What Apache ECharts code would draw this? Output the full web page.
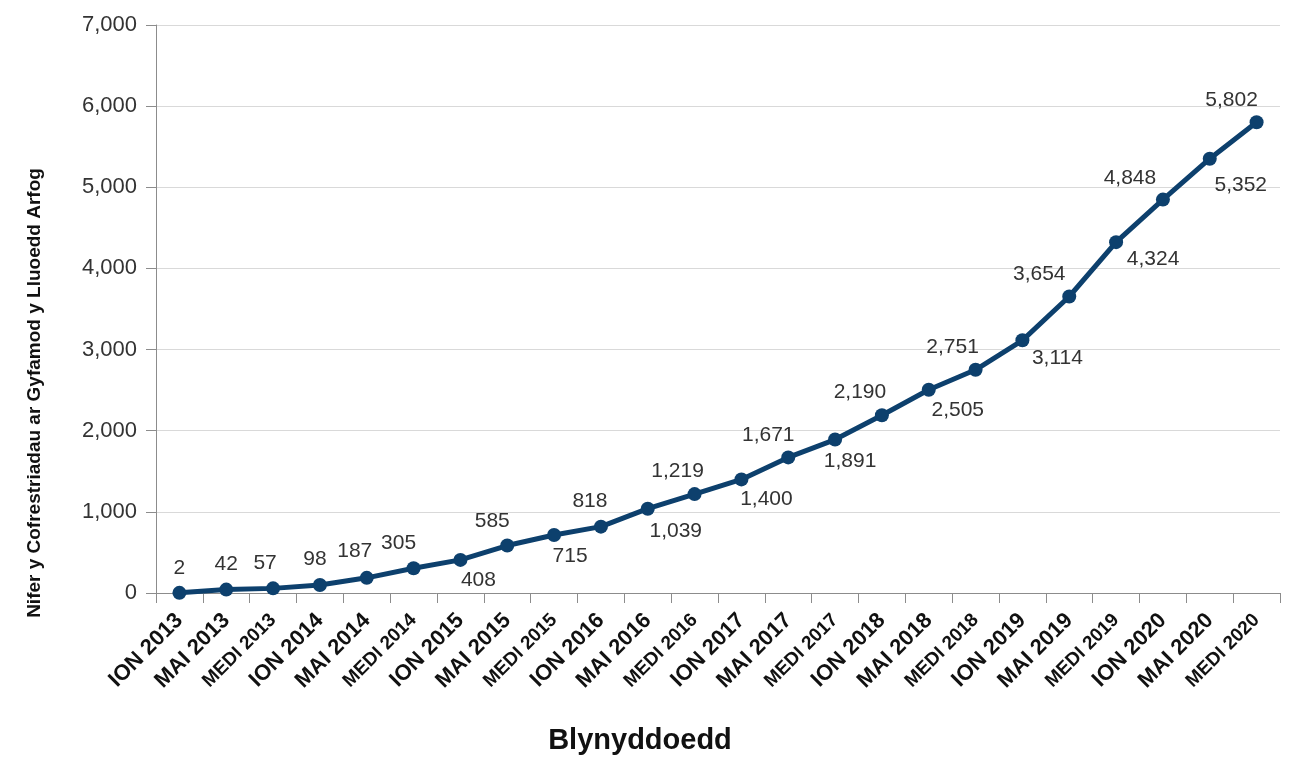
<!DOCTYPE html>
<html>
<head>
<meta charset="utf-8">
<script src="https://cdn.jsdelivr.net/npm/echarts@6/dist/echarts.min.js"></script>
<style>
    html, body { margin: 0; padding: 0; background: #fff; }
    #chart { width: 1291px; height: 757px; }
</style>
</head>
<body>
<div id="chart"></div>
<script>
var categories = [
    'ION 2013', 'MAI 2013', 'MEDI 2013', 'ION 2014', 'MAI 2014', 'MEDI 2014',
    'ION 2015', 'MAI 2015', 'MEDI 2015', 'ION 2016', 'MAI 2016', 'MEDI 2016',
    'ION 2017', 'MAI 2017', 'MEDI 2017', 'ION 2018', 'MAI 2018', 'MEDI 2018',
    'ION 2019', 'MAI 2019', 'MEDI 2019', 'ION 2020', 'MAI 2020', 'MEDI 2020'
];
var registrations = [
    2, 42, 57, 98, 187, 305,
    408, 585, 715, 818, 1039, 1219,
    1400, 1671, 1891, 2190, 2505, 2751,
    3114, 3654, 4324, 4848, 5352, 5802
];
var yTicks = { min: 0, max: 7000, interval: 1000 };

// where each value label sits relative to its point (px)
var labelOffsets = [
    [0, -25], [0, -25], [-8, -25], [-5, -26], [-12, -27], [-15, -25],
    [18, 20], [-15, -24], [16, 21], [-11, -25], [28, 23], [-17, -23],
    [25, 20], [-20, -22], [15, 22], [-22, -23], [29, 20], [-23, -23],
    [35, 18], [-30, -22], [37, 17], [-33, -21], [31, 26], [-25, -22]
];

var fmt = function (v) {
    return Number(v).toLocaleString('en-US');
};

var seriesData = registrations.map(function (v, i) {
    return {
        value: v,
        label: { offset: labelOffsets[i] }
    };
});

var chart = echarts.init(document.getElementById('chart'));

var option = {
    animation: false,
    grid: {
        left: 156, right: 11, top: 25, bottom: 164,
        containLabel: false,
        outerBoundsMode: 'none'
    },
    xAxis: {
        type: 'category',
        data: categories,
        boundaryGap: true,
        name: 'Blynyddoedd',
        nameLocation: 'middle',
        nameGap: 133,
        nameTextStyle: {
            fontFamily: 'Liberation Sans, Arial',
            fontWeight: 'bold',
            fontSize: 29,
            color: '#111',
            padding: [0, 156, 0, 0]
        },
        axisLine: { lineStyle: { color: '#8c8c8c', width: 1 } },
        axisTick: { show: true, length: 10, lineStyle: { color: '#8c8c8c' } },
        axisLabel: {
            rotate: 45,
            margin: 24,
            interval: 0,
            fontFamily: 'Liberation Sans, Arial',
            fontWeight: 'bold',
            fontSize: 22,
            color: '#111',
            formatter: function (v) {
                return v.indexOf('MEDI') === 0 ? '{m|' + v + '}' : v;
            },
            rich: {
                m: {
                    fontFamily: 'Liberation Sans, Arial',
                    fontWeight: 'bold',
                    fontSize: 19,
                    color: '#111'
                }
            }
        },
        splitLine: { show: false }
    },
    yAxis: {
        type: 'value',
        min: yTicks.min,
        max: yTicks.max,
        interval: yTicks.interval,
        name: 'Nifer y Cofrestriadau ar Gyfamod y Lluoedd Arfog',
        nameLocation: 'middle',
        nameGap: 112,
        nameTextStyle: {
            fontFamily: 'Liberation Sans, Arial',
            fontWeight: 'bold',
            fontSize: 19,
            color: '#111',
            padding: [0, 168, 0, 0]
        },
        axisLine: { show: true, lineStyle: { color: '#8c8c8c', width: 1 } },
        axisTick: { show: true, length: 10, lineStyle: { color: '#8c8c8c' } },
        axisLabel: {
            margin: 19,
            fontFamily: 'Liberation Sans, Arial',
            fontSize: 22,
            color: '#333',
            formatter: fmt
        },
        splitLine: { lineStyle: { color: '#d9d9d9', width: 1 } }
    },
    series: [
        {
            type: 'line',
            data: seriesData,
            symbol: 'circle',
            symbolSize: 14,
            lineStyle: { color: '#0d406d', width: 5 },
            itemStyle: { color: '#0d406d' },
            label: {
                show: true,
                position: 'inside',
                fontFamily: 'Liberation Sans, Arial',
                fontSize: 21,
                color: '#333',
                formatter: function (p) { return fmt(p.value); }
            }
        }
    ]
};

chart.setOption(option);
</script>
</body>
</html>
